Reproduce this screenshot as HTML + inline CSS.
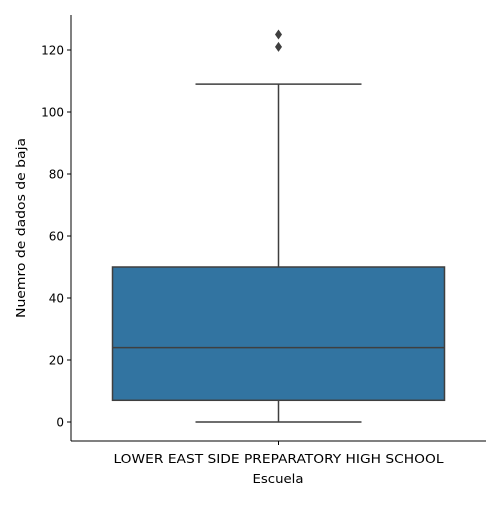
<!DOCTYPE html>
<html><head><meta charset="utf-8"><style>
body{margin:0;background:#fff}
svg{font-family:"DejaVu Sans","Liberation Sans",sans-serif}
</style></head><body>
<svg id="chart" width="500" height="500"></svg>
<script>
const categories = ["LOWER EAST SIDE PREPARATORY HIGH SCHOOL"];
const whiskerLow = [0];
const q1 = [7];
const median = [24];
const q3 = [50];
const whiskerHigh = [109];
const outliers = [[121, 125]];
const yTicks = [0, 20, 40, 60, 80, 100, 120];

const NS = "http://www.w3.org/2000/svg";
const svg = document.getElementById("chart");
const X0 = 71, X1 = 486, Ytop = 15, Ybot = 441;
const y = v => 422 - v * 3.1;
const bandW = (X1 - X0) / categories.length;
const xc = i => X0 + bandW * (i + 0.5);
function mk(tag, attrs, text) {
  const e = document.createElementNS(NS, tag);
  for (const k in attrs) e.setAttribute(k, attrs[k]);
  if (text !== undefined) e.textContent = text;
  svg.appendChild(e);
  return e;
}
const dark = "#3f3f3f";
categories.forEach((c, i) => {
  const cx = xc(i), bw = bandW * 0.8;
  let e;
  e = mk("line", {x1: cx, x2: cx, y1: y(whiskerLow[i]), y2: y(q1[i]), stroke: dark, "stroke-width": 1.5});
  
  
  e = mk("line", {x1: cx, x2: cx, y1: y(q3[i]), y2: y(whiskerHigh[i]), stroke: dark, "stroke-width": 1.5});
  
  
  e = mk("line", {x1: cx - bw / 4, x2: cx + bw / 4, y1: y(whiskerLow[i]), y2: y(whiskerLow[i]), stroke: dark, "stroke-width": 1.5});
  
  
  e = mk("line", {x1: cx - bw / 4, x2: cx + bw / 4, y1: y(whiskerHigh[i]), y2: y(whiskerHigh[i]), stroke: dark, "stroke-width": 1.5});
  
  
  e = mk("rect", {x: cx - bw / 2, y: y(q3[i]), width: bw, height: y(q1[i]) - y(q3[i]), fill: "#3274a1", stroke: dark, "stroke-width": 1.5});
  
  
  e = mk("line", {x1: cx - bw / 2, x2: cx + bw / 2, y1: y(median[i]), y2: y(median[i]), stroke: dark, "stroke-width": 1.5});
  
  
  outliers[i].forEach(v => {
    const py = y(v);
    const o = mk("polygon", {points: `${cx},${py-5} ${cx+3.5},${py} ${cx},${py+5} ${cx-3.5},${py}`, fill: dark});
    
    
  });
  const t = mk("text", {x: cx, y: 463, "text-anchor": "middle", "font-size": 12.5, fill: "#000", textLength: 330, lengthAdjust: "spacingAndGlyphs"}, c);
  
  
  const tk = mk("line", {x1: cx, x2: cx, y1: Ybot, y2: Ybot + 4, stroke: "#000"});
  
  
});
yTicks.forEach(v => {
  const l = mk("line", {x1: X0 - 4, x2: X0, y1: y(v), y2: y(v), stroke: "#000"});
  
  
  const t = mk("text", {x: X0 - 7, y: y(v) + 4.5, "text-anchor": "end", "font-size": 12}, v);
  
  
});
let a = mk("line", {x1: X0, x2: X0, y1: Ytop, y2: Ybot, stroke: "#000"});


a = mk("line", {x1: X0, x2: X1, y1: Ybot, y2: Ybot, stroke: "#000"});


a = mk("text", {x: 278, y: 483, "text-anchor": "middle", "font-size": 12.5, textLength: 51, lengthAdjust: "spacingAndGlyphs"}, "Escuela");


a = mk("text", {x: 0, y: 0, "text-anchor": "middle", "font-size": 12.5, textLength: 180, lengthAdjust: "spacingAndGlyphs", transform: "translate(25,228) rotate(-90)"}, "Nuemro de dados de baja");


</script>
</body></html>
